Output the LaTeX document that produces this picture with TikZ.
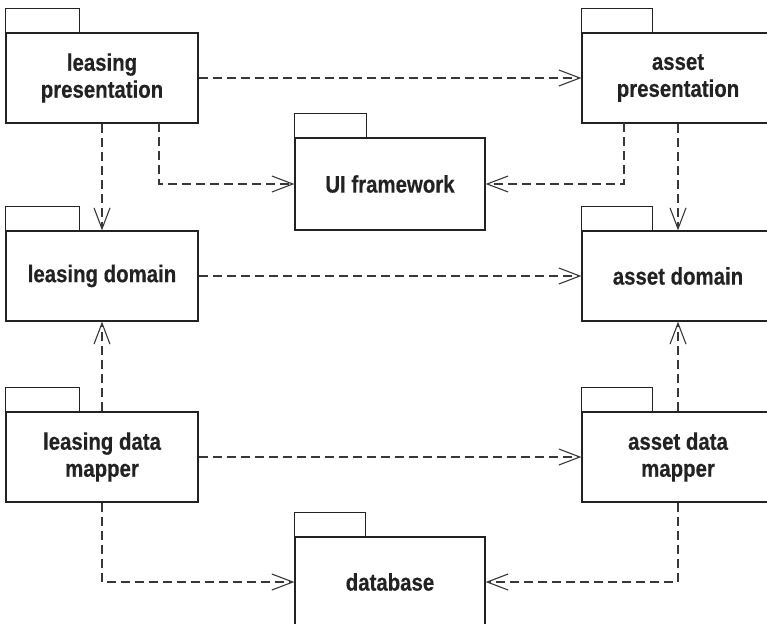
\documentclass[tikz,border=0pt]{standalone}
\usepackage{fontspec}
\setmainfont{Liberation Sans}[FakeStretch=0.85, BoldFeatures={FakeBold=0.4}]
\usetikzlibrary{arrows.meta}
\definecolor{ink}{HTML}{222222}
\tikzset{
  pkg/.style={draw=ink, line width=1.2pt, minimum width=192pt, minimum height=90pt,
    inner sep=0pt, align=center, font=\fontsize{24}{27}\selectfont\bfseries, text=ink},
  dep/.style={draw=ink!90, line width=1.1pt, dash pattern=on 9pt off 5pt,
    -{Straight Barb[length=21pt,width=16pt,line width=1.1pt]}},
}
\newcommand{\pkgtab}[2]{\draw[ink, line width=1.2pt] (#1.north west) rectangle ++(#2,-24);}
\begin{document}
\begin{tikzpicture}[x=1pt,y=-1pt]
\useasboundingbox (0,0) rectangle (767,623);
\node[pkg] (lp) at (102,78) {leasing\\presentation};
\node[pkg] (ap) at (678,78) {asset\\presentation};
\node[pkg, minimum width=190pt, minimum height=92pt] (ui) at (390,184) {UI framework};
\node[pkg] (ld) at (102,276) {leasing domain};
\node[pkg] (ad) at (678,276) {asset domain};
\node[pkg] (ldm) at (102,457) {leasing data\\mapper};
\node[pkg] (adm) at (678,457) {asset data\\mapper};
\node[pkg, minimum width=190pt] (db) at (390,582) {database};
\pkgtab{lp}{74}
\pkgtab{ap}{71}
\pkgtab{ui}{72}
\pkgtab{ld}{74}
\pkgtab{ad}{71}
\pkgtab{ldm}{74}
\pkgtab{adm}{71}
\pkgtab{db}{71}
\coordinate (lpo) at (159,123);
\coordinate (apo) at (624,123);
\draw[dep] (lp.east) -- (ap.west);
\draw[dep] (lp.south) -- (ld.north);
\draw[dep] (lpo) |- (ui.west);
\draw[dep] (apo) |- (ui.east);
\draw[dep] (ap.south) -- (ad.north);
\draw[dep] (ld.east) -- (ad.west);
\draw[dep] (ldm.north) -- (ld.south);
\draw[dep] (adm.north) -- (ad.south);
\draw[dep] (ldm.east) -- (adm.west);
\draw[dep] (ldm.south) |- (db.west);
\draw[dep] (adm.south) |- (db.east);
\end{tikzpicture}
\end{document}
